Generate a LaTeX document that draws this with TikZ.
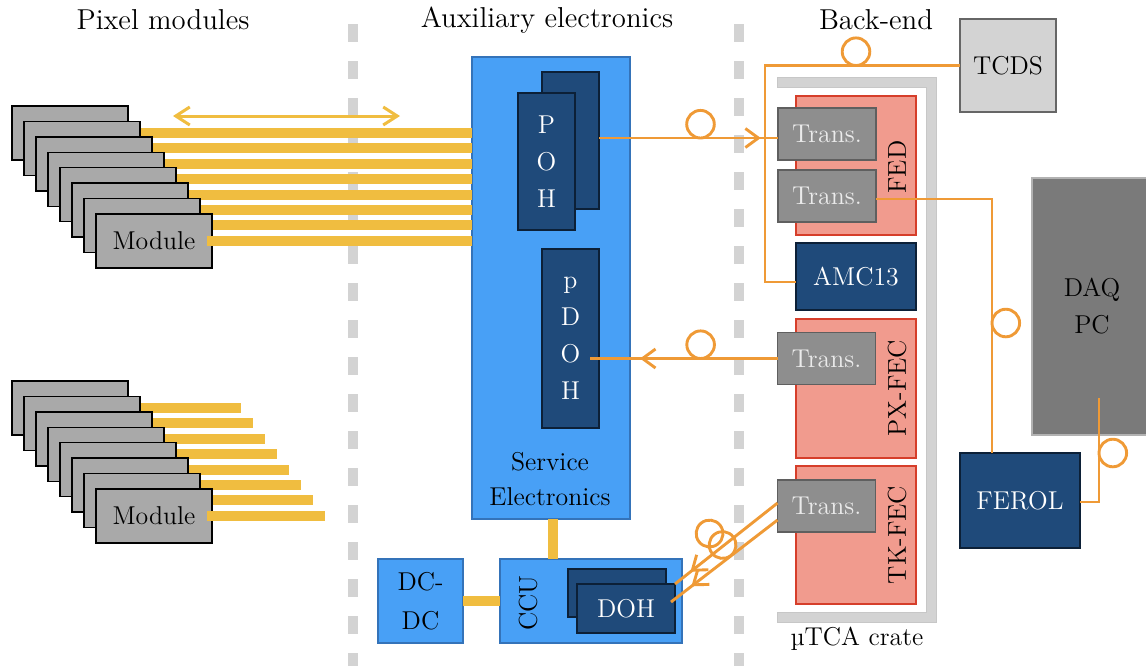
\documentclass[tikz,border=0pt]{standalone}
\usetikzlibrary{arrows.meta,decorations.markings,calc}
\definecolor{orng}{RGB}{239,154,54}
\definecolor{ylw}{RGB}{240,189,64}
\definecolor{sepgray}{RGB}{211,211,211}
\definecolor{lblue}{RGB}{72,160,246}
\definecolor{lblueb}{RGB}{52,115,185}
\definecolor{dblue}{RGB}{31,74,122}
\definecolor{dblueb}{RGB}{12,32,55}
\definecolor{modgray}{RGB}{169,169,169}
\definecolor{trgray}{RGB}{142,142,142}
\definecolor{trborder}{RGB}{95,95,95}
\definecolor{salmon}{RGB}{241,155,142}
\definecolor{salmonb}{RGB}{214,62,42}
\definecolor{daqgray}{RGB}{122,122,122}
\begin{document}
\begin{tikzpicture}[x=0.5pt,y=-0.5pt,
  every node/.style={font=\fontsize{12.9}{15.4}\selectfont, inner sep=0pt, outer sep=0pt},
  titletext/.style={font=\fontsize{14.4}{17}\selectfont},
  modbox/.style={draw=black, fill=modgray, line width=0.7pt, minimum width=58pt, minimum height=27pt},
  lbbox/.style={draw=lblueb, fill=lblue, line width=0.8pt},
  dbbox/.style={draw=dblueb, fill=dblue, line width=0.9pt, text=white},
  transbox/.style={draw=trborder, fill=trgray, line width=0.9pt, text=white!92!black, minimum width=49pt, minimum height=26pt},
  cardbox/.style={draw=salmonb, fill=salmon, line width=0.8pt, minimum width=60pt, minimum height=69.5pt},
  fiber/.style={draw=orng, line width=1.45pt},
  loopc/.style={draw=orng, line width=1.45pt},
  ybar/.style={draw=ylw, line width=5pt},
  sepline/.style={draw=sepgray, line width=5pt, dash pattern=on 9pt off 9.5pt},
  stacked/.style={align=center, font=\fontsize{12.9}{18.5}\selectfont},
  >={Straight Barb[length=6.5pt,width=9.5pt]}
]
\useasboundingbox (0,0) rectangle (1146,666);

% separators
\coordinate (s1t) at (353,24); \coordinate (s1b) at (353,666);
\coordinate (s2t) at (739,24); \coordinate (s2b) at (739,666);
\draw[sepline] (s1t) -- (s1b);
\draw[sepline] (s2t) -- (s2b);

% titles
\node[titletext] (t1) at (163,20) {Pixel modules};
\node[titletext] (t2) at (547,20) {Auxiliary electronics};
\node[titletext] (t3) at (876,20) {Back-end};

% service electronics
\node[lbbox, minimum width=79pt, minimum height=231pt] (serv) at (551,288) {};
\node[align=center, font=\fontsize{12.9}{17.5}\selectfont] (servt) at (550,479) {Service\\Electronics};

% modules top
\foreach \i in {0,...,7} {
  \node[modbox] (mt\i) at ({70+12*\i},{133+15.4*\i}) {\ifnum\i=7 Module\fi};
  \draw[ybar] ([xshift=-2.5pt]mt\i.east) -- (mt\i.east -| serv.west);
}
% modules bottom
\foreach \i in {0,...,7} {
  \node[modbox] (mb\i) at ({70+12*\i},{408+15.4*\i}) {\ifnum\i=7 Module\fi};
  \coordinate (be\i) at ({241+12*\i},{408+15.4*\i});
  \draw[ybar] ([xshift=-2.5pt]mb\i.east) -- (be\i);
}

% double arrow
\coordinate (dal) at (173,116); \coordinate (dar) at (400,116);
\draw[ylw, line width=1.5pt, {Straight Barb[length=7pt,width=9pt]}-{Straight Barb[length=7pt,width=9pt]}] (dal) -- (dar);

% POH / pDOH
\node[dbbox, minimum width=28.5pt, minimum height=68.5pt] (pohb) at (570.5,140.5) {};
\node[dbbox, stacked, minimum width=28.5pt, minimum height=68.5pt] (pohf) at (546.5,161.5) {P\\O\\H};
\node[dbbox, stacked, minimum width=28.5pt, minimum height=89.5pt] (pdoh) at (570.5,338.5) {p\\D\\O\\H};

% DC-DC, CCU, DOH
\node[lbbox, minimum width=42.5pt, minimum height=42pt, align=center, font=\fontsize{12.9}{19.5}\selectfont] (dcdc) at (420.5,601) {DC-\\DC};
\node[lbbox, minimum width=91pt, minimum height=42pt] (ccu) at (591,601) {};
\node[rotate=90] (ccut) at (528,603) {CCU};
\node[dbbox, minimum width=49pt, minimum height=24pt] (dohb) at (617,593) {};
\node[dbbox, minimum width=49pt, minimum height=24.5pt] (dohf) at (626,608.5) {DOH};
\coordinate (sb) at ([xshift=1pt]serv.south);
\draw[ybar] (sb) -- (sb |- ccu.north);
\draw[ybar] (dcdc.east) -- (ccu.west);

% crate
\filldraw[fill=sepgray, draw=black!22, line width=0.4pt] (777,77) -- (936,77) -- (936,622) -- (777,622) -- (777,612) -- (926,612) -- (926,87) -- (777,87) -- cycle;
\node (crate) at (857,639) {µTCA crate};

% cards
\node[cardbox] (fed) at (856,165.5) {};
\node[rotate=90] (fedt) at (897,167) {FED};
\node[cardbox] (pxfec) at (856,388.5) {};
\node[rotate=90] (pxfect) at (897,388) {PX-FEC};
\node[cardbox, minimum height=69pt] (tkfec) at (856,535) {};
\node[rotate=90] (tkfect) at (897,535) {TK-FEC};
\node[dbbox, minimum width=60pt, minimum height=33.5pt] (amc) at (856,276.5) {AMC13};

\node[transbox] (tr1) at (827,134) {Trans.};
\node[transbox] (tr2) at (827,196) {Trans.};
\node[transbox] (trpx) at (826.5,358.5) {Trans.};
\node[transbox] (trtk) at (826.5,506) {Trans.};

% right side boxes
\node[draw=black!60, fill=sepgray, line width=0.9pt, minimum width=48pt, minimum height=46.5pt] (tcds) at (1008,65.5) {TCDS};
\node[draw=black!30, fill=daqgray, line width=0.9pt, minimum width=60pt, minimum height=128.5pt, stacked] (daq) at (1092,306.5) {DAQ\\PC};
\node[dbbox, minimum width=60pt, minimum height=47.5pt] (ferol) at (1020,500.5) {FEROL};

% fibres
\coordinate (y138) at (0,138);
\draw[fiber, decoration={markings,
   mark=at position 0.567 with {\draw[loopc] (0pt,6.9pt) circle[radius=6.9pt];},
   mark=at position 0.904 with {\arrow[orng, line width=1.45pt]{>}}}, postaction={decorate}]
  (pohb.east |- y138) -- (tr1.west |- y138);

\coordinate (pdin) at (590,358.5);
\draw[fiber, decoration={markings,
   mark=at position 0.41 with {\draw[loopc] (0pt,-6.9pt) circle[radius=6.9pt];},
   mark=at position 0.733 with {\arrow[orng, line width=1.45pt]{>}}}, postaction={decorate}]
  (trpx.west) -- (pdin);

\coordinate (tcv) at (765,282);
\coordinate (amcin) at (796,282);
\draw[fiber] (tcds.west) -| (tcv) -- (amcin);
\coordinate (tcloop) at (856,51.7);
\draw[loopc] (tcloop) circle[radius=6.9pt];

\coordinate (fv) at (992,199);
\draw[fiber] (tr2.east |- fv) -- (fv) -- (fv |- ferol.north);
\coordinate (fvloop) at (1005.8,323);
\draw[loopc] (fvloop) circle[radius=6.9pt];

\coordinate (fd) at (1099,502);
\coordinate (dq) at (1099,398);
\draw[fiber] (ferol.east |- fd) -- (fd) -- (dq);
\coordinate (fdloop) at (1112.8,453);
\draw[loopc] (fdloop) circle[radius=6.9pt];

\draw[fiber, decoration={markings,
   mark=at position 0.553 with {\draw[loopc] (0pt,-9.1pt) circle[radius=6.7pt];},
   mark=at position 0.85 with {\arrow[orng, line width=1.45pt]{>}}}, postaction={decorate}]
  ([yshift=1.5pt]trtk.west) -- (dohf.north east);
\draw[fiber, decoration={markings,
   mark=at position 0.438 with {\draw[loopc] (0pt,-6.85pt) circle[radius=6.7pt];},
   mark=at position 0.81 with {\arrow[orng, line width=1.45pt]{>}}}, postaction={decorate}]
  ([yshift=-7pt]trtk.west) -- ([xshift=-2pt,yshift=3.25pt]dohf.east);
\end{tikzpicture}
\end{document}
